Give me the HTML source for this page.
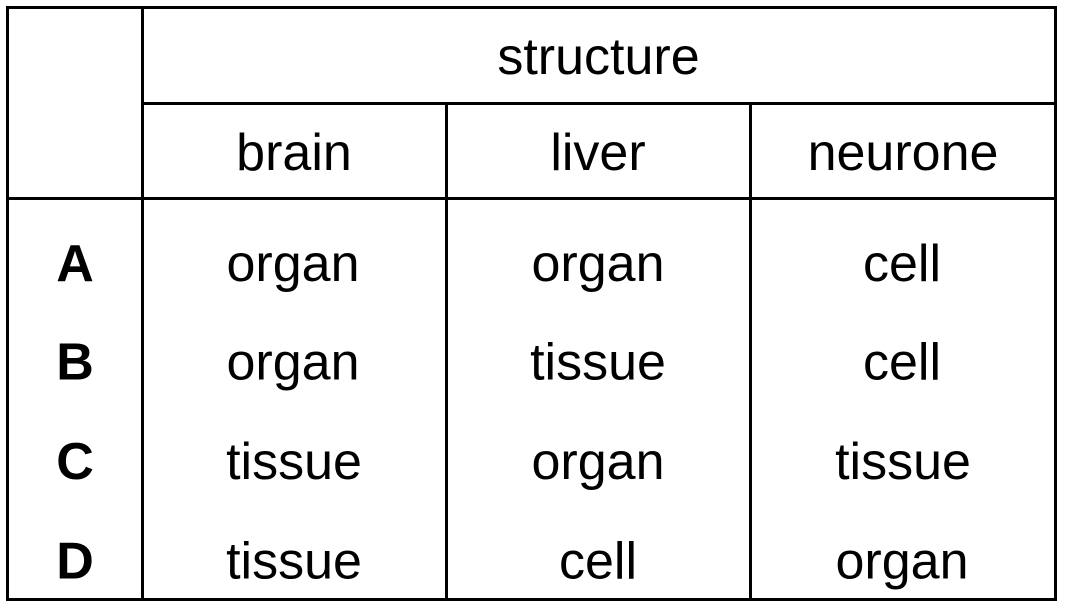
<!DOCTYPE html>
<html>
<head>
<meta charset="utf-8">
<style>
html,body{margin:0;padding:0;background:#fff;width:1071px;height:608px;overflow:hidden}
svg{display:block}
text{font-family:"Liberation Sans",Arial,sans-serif;font-size:52px;fill:#000;text-anchor:middle}
.b{font-weight:bold}
</style>
</head>
<body>
<svg width="1071" height="608" viewBox="0 0 1071 608" xmlns="http://www.w3.org/2000/svg">
<rect width="1071" height="608" fill="#fff"/>
<g fill="#000">
<rect x="6" y="6" width="1051" height="3"/>
<rect x="6" y="598" width="1051" height="3"/>
<rect x="6" y="6" width="3" height="595"/>
<rect x="1054" y="6" width="3" height="595"/>
<rect x="141" y="6" width="3" height="595"/>
<rect x="445" y="102" width="3" height="499"/>
<rect x="749" y="102" width="3" height="499"/>
<rect x="141" y="102" width="916" height="3"/>
<rect x="6" y="197" width="1051" height="3"/>
</g>
<text x="598.5" y="74">structure</text>
<text x="294" y="170">brain</text>
<text x="598" y="170">liver</text>
<text x="903" y="170">neurone</text>
<text class="b" x="75" y="281">A</text>
<text x="293" y="281">organ</text>
<text x="598" y="281">organ</text>
<text x="902" y="281">cell</text>
<text class="b" x="75" y="379.5">B</text>
<text x="293" y="379.5">organ</text>
<text x="598" y="379.5">tissue</text>
<text x="902" y="379.5">cell</text>
<text class="b" x="75" y="479">C</text>
<text x="294" y="479">tissue</text>
<text x="598" y="479">organ</text>
<text x="903" y="479">tissue</text>
<text class="b" x="75" y="578.5">D</text>
<text x="294" y="578.5">tissue</text>
<text x="598" y="578.5">cell</text>
<text x="902" y="578.5">organ</text>
</svg>
</body>
</html>
